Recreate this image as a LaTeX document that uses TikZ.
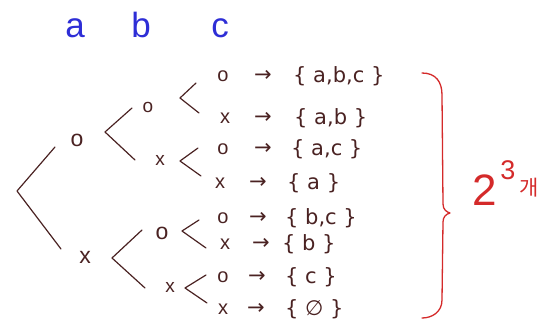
\documentclass[tikz,border=0pt]{standalone}
\usepackage{fontspec}
\setmainfont{Liberation Sans}
\newfontfamily\symfont{DejaVu Sans}
\newfontfamily\krfont{Noto Sans CJK KR}
\definecolor{ink}{HTML}{4A2222}
\definecolor{bink}{HTML}{2E2ED6}
\definecolor{rink}{HTML}{D42A2A}
\tikzset{
  hand/.style={draw=ink, line width=1.2pt, line cap=round, line join=round},
  head/.style={text=bink, inner sep=0pt, anchor=base, font=\fontsize{35}{35}\selectfont},
  lvone/.style={text=ink, inner sep=0pt, font=\fontsize{23}{23}\selectfont},
  lvtwo/.style={text=ink, inner sep=0pt, font=\fontsize{19}{19}\selectfont},
  lvthree/.style={text=ink, inner sep=0pt, font=\fontsize{20}{20}\selectfont},
  arr/.style={text=ink, inner sep=0pt, font=\symfont\fontsize{21}{21}\selectfont},
  setn/.style={text=ink, inner sep=0pt, anchor=west, font=\symfont\fontsize{21}{21}\selectfont},
  rbrace/.style={draw=rink, line width=1.3pt, line cap=round, line join=round},
  rtext/.style={text=rink, inner sep=0pt}
}
\begin{document}
\begin{tikzpicture}[x=1pt,y=-1pt]
\useasboundingbox (0,0) rectangle (552,331);
% header
\node[head] (ha) at (75,38) {a};
\node[head] (hb) at (141,38) {b};
\node[head] (hc) at (220,38) {c};
% level 1
\node[lvone] (o1) at (77,140) {o};
\node[lvone] (x1) at (85,257) {x};
% level 2
\node[lvtwo] (o2a) at (148,107) {o};
\node[lvtwo] (x2a) at (160,160) {x};
\node[lvone] (o2b) at (162,233) {o};
\node[lvtwo] (x2b) at (170,287) {x};
% level 3 and results
\foreach \i/\s/\sx/\y/\ax/\tx/\t in {
  1/o/223/76/263/293/{\{ a,b,c \}},
  2/x/225/118/263/294/{\{ a,b \}},
  3/o/223/149/263/291/{\{ a,c \}},
  4/x/220/183/258/287/{\{ a \}},
  5/o/223/218/258/285/{\{ b,c \}},
  6/x/225/244/261/282/{\{ b \}},
  7/o/223/277/257/285/{\{ c \}},
  8/x/223/309/256/285/{\{ ∅ \}}}{
  \node[lvthree] (l\i) at (\sx,\y) {\s};
  \node[arr] (a\i) at (\ax,\y) {→};
  \node[setn] (s\i) at (\tx,\y) {\t};
}
% chevrons
\coordinate (vr) at (17,191);  \coordinate (ur) at (55,147);  \coordinate (dr) at (61,249);
\coordinate (vA) at (105,132); \coordinate (uA) at (132,108); \coordinate (dA) at (135,160);
\coordinate (vB) at (180,98);  \coordinate (uB) at (196,83);  \coordinate (dB) at (199,113);
\coordinate (vC) at (180,161); \coordinate (uC) at (198,148); \coordinate (dC) at (201,176);
\coordinate (vD) at (112,258); \coordinate (uD) at (142,230); \coordinate (dD) at (145,288);
\coordinate (vE) at (182,231); \coordinate (uE) at (199,220); \coordinate (dE) at (206,248);
\coordinate (vF) at (185,288); \coordinate (uF) at (206,275); \coordinate (dF) at (207,303);
\foreach \k in {r,A,B,C,D,E,F}{
  \draw[hand] (u\k) -- (v\k) -- (d\k);
}
% red brace
\coordinate (bt) at (422,73);
\coordinate (bm) at (450,213);
\coordinate (bb) at (422,318);
\draw[rbrace] (bt) .. controls (436,73) and (442,82) .. (442,95)
  -- (443,204) .. controls (443,210) and (447,212) .. (bm)
  .. controls (446,214) and (443,217) .. (443,222)
  -- (442,300) .. controls (442,312) and (432,318) .. (bb);
% 2^3 개
\node[rtext, font=\fontsize{44}{44}\selectfont] (two) at (485,190) {2};
\node[rtext, font=\fontsize{27}{27}\selectfont] (three) at (508,170) {3};
\node[rtext, font=\krfont\fontsize{21}{21}\selectfont] (gae) at (529,188) {개};
\end{tikzpicture}
\end{document}
